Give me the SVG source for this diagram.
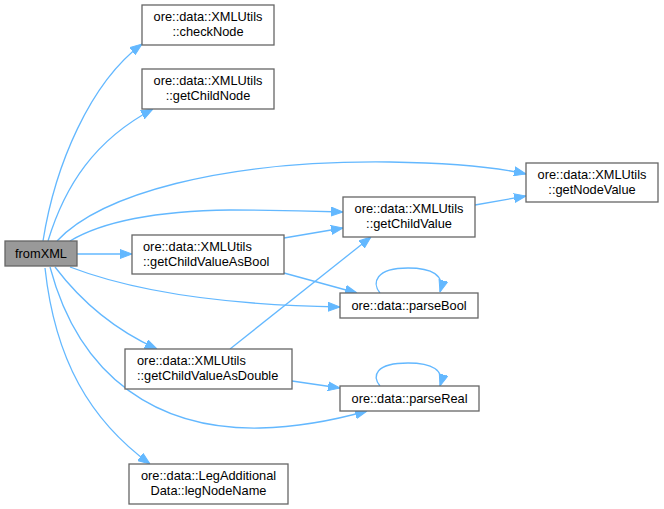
<svg xmlns="http://www.w3.org/2000/svg" width="664" height="509" viewBox="0 0 664 509">
<style>
.n rect{fill:#ffffff;stroke:#666666;stroke-width:1.3}
#fromXML rect{fill:#999999}
text{font-family:"Liberation Sans",Arial,sans-serif;font-size:12.8px;fill:#000000}
.c{text-anchor:middle}
.e path{fill:none;stroke:#63b8ff;stroke-width:1.3;marker-end:url(#ah)}
</style>
<defs>
<marker id="ah" viewBox="0 0 12 10" refX="12" refY="5" markerWidth="12" markerHeight="10" markerUnits="userSpaceOnUse" orient="auto">
<path d="M0,0.5 L12,5 L0,9.5 z" fill="#63b8ff" stroke="#63b8ff" stroke-width="1"/>
</marker>
</defs>
<rect width="664" height="509" fill="#ffffff"/>
<g id="connectors" class="e">
<path d="M43,241 C55,165 90,83 142,44"/>
<path d="M48,241 C65,185 95,140 153,109"/>
<path d="M57,241 C100,195 220,160 390,162 C450,163 495,167 526,174"/>
<path d="M70,241 C105,220 160,211 230,210 C280,210 315,211 343,212"/>
<path d="M77,254 L132,254"/>
<path d="M284,238 L343,228"/>
<path d="M284,273 L357,293"/>
<path d="M70,267 C130,290 220,305 340,307"/>
<path d="M55,267 C80,300 115,330 157,349"/>
<path d="M50,267 C80,380 160,430 260,428 C300,427 335,420 367,411"/>
<path d="M45,268 C55,360 90,420 150,464"/>
<path d="M230,349 L371,237"/>
<path d="M292,381 L340,388"/>
<path d="M475,205 L526,196"/>
<path d="M380,293 C372,283 375,268 408,268 C432,268 445,275 440,292"/>
<path d="M380,386 C372,376 375,363 408,363 C432,363 445,370 440,386"/>
</g>
<g id="fromXML" class="n"><rect x="5" y="241" width="72" height="25"/><text class="c" x="41" y="258">fromXML</text></g>
<g id="checkNode" class="n"><rect x="142" y="5" width="132" height="40"/><text class="c" x="208" y="21">ore::data::XMLUtils</text><text class="c" x="208" y="36">::checkNode</text></g>
<g id="getChildNode" class="n"><rect x="142" y="69" width="132" height="40"/><text class="c" x="208" y="85">ore::data::XMLUtils</text><text class="c" x="208" y="100">::getChildNode</text></g>
<g id="getNodeValue" class="n"><rect x="526" y="163" width="132" height="39"/><text class="c" x="592" y="179">ore::data::XMLUtils</text><text class="c" x="592" y="194">::getNodeValue</text></g>
<g id="getChildValue" class="n"><rect x="343" y="197" width="132" height="40"/><text class="c" x="409" y="213">ore::data::XMLUtils</text><text class="c" x="409" y="228">::getChildValue</text></g>
<g id="getChildValueAsBool" class="n"><rect x="132" y="235" width="152" height="39"/><text x="143" y="251">ore::data::XMLUtils</text><text x="143" y="266">::getChildValueAsBool</text></g>
<g id="parseBool" class="n"><rect x="340" y="293" width="138" height="25"/><text class="c" x="409" y="310">ore::data::parseBool</text></g>
<g id="getChildValueAsDouble" class="n"><rect x="125" y="349" width="167" height="40"/><text x="137" y="365">ore::data::XMLUtils</text><text x="137" y="380">::getChildValueAsDouble</text></g>
<g id="parseReal" class="n"><rect x="340" y="386" width="139" height="25"/><text class="c" x="409.5" y="403">ore::data::parseReal</text></g>
<g id="legNodeName" class="n"><rect x="129" y="464" width="159" height="40"/><text class="c" x="208.5" y="480">ore::data::LegAdditional</text><text class="c" x="208.5" y="495">Data::legNodeName</text></g>
</svg>
